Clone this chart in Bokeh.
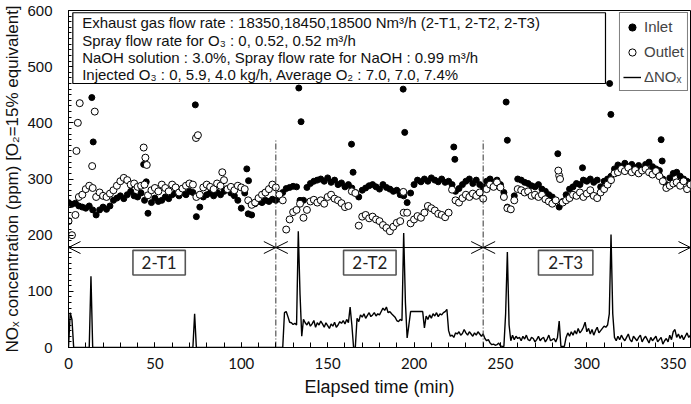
from bokeh.plotting import figure
from bokeh.models import (Range1d, FixedTicker, Arrow, OpenHead, Label, BoxAnnotation,
                          Legend, LegendItem, ColumnDataSource)
from bokeh.embed import file_html
from bokeh.resources import INLINE

# ---------------- data ----------------
minutes_2 = list(range(0, 361, 2))

inlet_main = [
    258, 255, 257, 252, 250, 248, 252, 245, 236, 245,
    250, 246, 252, 262, 266, 270, 265, 272, 278, 270,
    268, 275, 262, 239, 258, 266, 260, 262, 268, 265,
    272, 275, 270, 276, 272, 278, 276, 233, 250, 268,
    272, 275, 270, 276, 272, 278, 283, 275, 270, 262,
    248, 275, 238, 236, 256, 260, 258, 262, 260, 264,
    262,
    270, 276, 283, 285, 287, 286, 262, 262, 285, 292,
    296, 298, 300, 296, 302, 294, 298, 290, 293, 286,
    290, 284, 276, 268, 280, 284, 288, 290, 286, 282,
    290, 285, 282, 278, 280, 272, 270, 258, 275, 290,
    298, 295, 300, 296, 302, 298, 295, 300, 294, 296,
    290, 278, 283, 290, 296, 300, 292, 298, 290, 286,
    296, 300, 294, 298, 290, 276, 250, 246, 270, 300,
    298, 294, 292, 288, 286, 290, 282, 278, 272, 268,
    262, 250, 260, 272, 282, 286, 292, 290, 298, 296,
    300, 294, 298, 286, 296, 300, 305, 318, 325, 322,
    328, 322, 326, 320, 324, 318, 326, 330, 322, 318,
    315, 300, 290, 302, 310, 312, 305, 300, 296, 292,
]

outlet_main = [
    225, 200, 236, 268, 272, 282, 288, 284, 268, 276,
    270, 268, 274, 280, 288, 296, 302, 298, 290, 292,
    286, 288, 290, 271, 280, 284, 278, 290, 284, 278,
    290, 285, 276, 283, 288, 292, 290, 268, 272, 285,
    290, 286, 282, 292, 288, 298, 282, 286, 280, 288,
    285, 282, 262, 254, 258, 266, 272, 276, 282, 290,
    285,
    272, 262, 210, 228, 241, 245, 256, 231, 245, 260,
    263, 258, 262, 256, 268, 272, 265, 262, 257, 250,
    252, 278, 275, 217, 233, 236, 230, 233, 228, 225,
    218, 213, 207, 215, 222, 225, 240, 240, 221, 228,
    234, 231, 240, 252, 248, 244, 238, 236, 232, 240,
    281, 262, 258, 266, 272, 268, 274, 270, 276, 265,
    282, 290, 286, 294, 285, 268, 248, 246, 262, 282,
    280, 276, 278, 270, 272, 268, 272, 264, 260, 256,
    262, 306, 258, 262, 266, 272, 270, 276, 268, 274,
    280, 270, 266, 276, 282, 290, 298, 310, 312, 318,
    314, 320, 312, 316, 310, 315, 318, 312, 308, 314,
    305, 296, 284, 288, 292, 294, 288, 296, 282, 290,
]

inlet_extra_t = [13.5, 14.3, 43.5, 45.0, 73.4, 103.2, 104.2, 133.3, 134.6, 163.8, 164.7,
                 193.7, 194.6, 223.0, 223.6, 253.3, 254.0, 283.2, 297.5, 313.2, 313.9,
                 343.0, 343.6]
inlet_extra_v = [445, 366, 326, 295, 432, 318, 297, 462, 402, 362, 312,
                 460, 383, 357, 335, 437, 369, 345, 320, 470, 415,
                 370, 332]

outlet_extra_t = [4.6, 5.4, 6.5, 13.7, 15.2, 43.5, 44.5, 45.3, 73.8, 74.9, 89.0,
                  193.8, 283.5, 284.5]
outlet_extra_v = [350, 400, 435, 323, 420, 356, 338, 325, 373, 378, 312,
                  277, 315, 300]

minutes_1 = list(range(0, 361))
delta_nox = [
    0, 62, 50, 0, 0, 0, 0, 0, 0, 0,
    0, 0, 0, 127, 0, 0, 0, 0, 0, 0,
    0, 0, 0, 0, 0, 0, 0, 0, 0, 0,
    0, 0, 0, 0, 0, 0, 0, 0, 0, 0,
    0, 0, 0, 0, 0, 0, 0, 0, 0, 0,
    0, 0, 0, 0, 0, 0, 0, 0, 0, 0,
    0, 0, 0, 0, 0, 0, 0, 0, 0, 0,
    0, 0, 0, 60, 0, 0, 0, 0, 0, 0,
    0, 0, 0, 0, 0, 0, 0, 0, 0, 0,
    0, 0, 0, 0, 0, 0, 0, 0, 0, 0,
    0, 0, 0, 0, 0, 0, 0, 0, 0, 0,
    0, 0, 0, 0, 0, 0, 0, 0, 0, 0,
    0, 0, 0, 0, 0, 62, 64, 55, 45, 44,
    41, 43, 40, 207, 95, 20, 50, 44, 40, 46,
    38, 42, 48, 36, 44, 40, 47, 42, 36, 44,
    39, 34, 42, 38, 45, 36, 40, 46, 43, 48,
    42, 50, 44, 72, 40, 0, 0, 52, 46, 58,
    54, 60, 52, 57, 62, 55, 58, 62, 56, 60,
    58, 64, 70, 66, 72, 62, 64, 60, 57, 54,
    48, 46, 50, 48, 204, 80, 17, 40, 64, 64,
    64, 64, 64, 64, 64, 64, 35, 56, 50, 58,
    52, 60, 56, 62, 55, 60, 58, 62, 64, 68,
    30, 20, 22, 18, 26, 24, 28, 22, 25, 32,
    26, 22, 28, 24, 20, 26, 22, 28, 24, 20,
    24, 16, 12, 14, 8, 5, 6, 4, 5, 8,
    3, 2, 2, 60, 170, 40, 12, 22, 14, 20,
    16, 18, 12, 20, 15, 22, 14, 12, 18, 16,
    10, 14, 20, 12, 16, 18, 10, 15, 22, 12,
    14, 16, 10, 18, 47, 2, 2, 2, 18, 26,
    20, 28, 22, 30, 24, 34, 26, 30, 36, 45,
    28, 34, 24, 32, 22, 30, 36, 26, 30, 34,
    38, 36, 40, 60, 201, 60, 18, 12, 20, 14,
    22, 16, 12, 18, 24, 14, 10, 20, 16, 12,
    18, 22, 10, 16, 20, 14, 8, 18, 12, 16,
    20, 10, 14, 18, 6, 12, 16, 10, 22, 14,
    28, 32, 18, 24, 16, 22, 14, 20, 26, 18,
    22,
]

period_names = ["2-T1", "2-T2", "2-T3"]
period_edges = [0, 120, 240, 360]
x_ticks = [0, 50, 100, 150, 200, 250, 300, 350]
y_ticks = [0, 100, 200, 300, 400, 500, 600]

info_lines = [
    "Exhaust gas flow rate : 18350,18450,18500 Nm\u00b3/h (2-T1, 2-T2, 2-T3)",
    "Spray flow rate for O\u2083 : 0, 0.52, 0.52 m\u00b3/h",
    "NaOH solution : 3.0%, Spray flow rate for NaOH : 0.99 m\u00b3/h",
    "Injected O\u2083 : 0, 5.9, 4.0 kg/h, Average O\u2082 : 7.0, 7.0, 7.4%",
]

# ---------------- figure ----------------
FONT = "Liberation Sans"

p = figure(width=691, height=403, output_backend="svg", toolbar_location=None,
           x_range=Range1d(0, 360), y_range=Range1d(0, 600),
           min_border_left=68, min_border_right=1, min_border_top=10, min_border_bottom=56)
p.xgrid.visible = False
p.ygrid.visible = False
p.outline_line_color = "black"
p.outline_line_width = 1
p.background_fill_color = "white"
p.border_fill_color = "white"

inlet_src = ColumnDataSource(dict(t=minutes_2 + inlet_extra_t, v=inlet_main + inlet_extra_v))
outlet_src = ColumnDataSource(dict(t=minutes_2 + outlet_extra_t, v=outlet_main + outlet_extra_v))
delta_src = ColumnDataSource(dict(t=minutes_1, v=delta_nox))

r_delta = p.line("t", "v", source=delta_src, line_color="black", line_width=1.4)
r_in = p.scatter("t", "v", source=inlet_src, marker="circle", size=6,
                 fill_color="black", line_color="black", line_width=1)
r_out = p.scatter("t", "v", source=outlet_src, marker="circle", size=7,
                  fill_color="white", line_color="black", line_width=1)

# period boundaries (dash-dot)
for b in period_edges[1:-1]:
    p.segment(x0=[b], y0=[0], x1=[b], y1=[370], line_color="#333333",
              line_width=1, line_dash="6 2 1 2")

# period arrows
for a, b in zip(period_edges[:-1], period_edges[1:]):
    p.add_layout(Arrow(x_start=a, y_start=178, x_end=b, y_end=178,
                       line_color="black", line_width=1,
                       start=OpenHead(size=12, line_color="black", line_width=1),
                       end=OpenHead(size=12, line_color="black", line_width=1)))

# period label boxes
box_pos = [(37.3, 67.6), (159.2, 189.6), (272.0, 303.5)]
for name, (l, r) in zip(period_names, box_pos):
    p.add_layout(BoxAnnotation(left=l, right=r, bottom=129, top=173,
                               fill_color="white", fill_alpha=1,
                               line_color="#555555", line_width=1.6, line_alpha=1))
    p.add_layout(Label(x=(l + r) / 2, y=151, text=name, text_align="center",
                       text_baseline="middle", text_font="Lato",
                       text_font_size="17px", text_color="#222222"))

# information box
p.add_layout(BoxAnnotation(left=2.5, right=310.8, bottom=470, top=596,
                           fill_color="white", fill_alpha=1,
                           line_color="black", line_width=1.2, line_alpha=1))
for txt, yy in zip(info_lines, [579, 546.5, 516, 486]):
    p.add_layout(Label(x=7.9, y=yy, text=txt, text_align="left", text_baseline="middle",
                       text_font=FONT, text_font_size="15px", text_color="#111111"))

# legend
legend = Legend(items=[LegendItem(label="Inlet", renderers=[r_in]),
                       LegendItem(label="Outlet", renderers=[r_out]),
                       LegendItem(label="\u0394NO\u2093", renderers=[r_delta])],
                location="top_right", margin=2, padding=3, spacing=4,
                label_height=21, glyph_height=20, glyph_width=18, label_standoff=3,
                label_text_font=FONT, label_text_font_size="15px",
                border_line_color="black", border_line_width=1,
                background_fill_color="white", background_fill_alpha=1)
p.add_layout(legend)

# axes
p.xaxis.ticker = FixedTicker(ticks=x_ticks, minor_ticks=list(range(0, 361, 10)))
p.yaxis.ticker = FixedTicker(ticks=y_ticks, minor_ticks=list(range(0, 601, 10)))
for ax in (p.xaxis[0], p.yaxis[0]):
    ax.axis_line_color = "black"
    ax.major_tick_line_color = "black"
    ax.minor_tick_line_color = "black"
    ax.major_tick_in = 5
    ax.major_tick_out = 0
    ax.minor_tick_out = 0
    ax.major_label_text_color = "#111111"
    ax.axis_label_text_color = "#111111"
    ax.axis_label_text_font_style = "normal"
    ax.axis_label_text_font = FONT
p.xaxis.minor_tick_in = 5
p.yaxis.minor_tick_in = 3
p.xaxis.major_label_text_font = "Lato"
p.xaxis.major_label_text_font_size = "15px"
p.yaxis.major_label_text_font = FONT
p.yaxis.major_label_text_font_size = "15px"
p.xaxis.major_label_standoff = 10
p.yaxis.major_label_standoff = 16
p.xaxis.axis_label = "Elapsed time (min)"
p.xaxis.axis_label_text_font_size = "18px"
p.xaxis.axis_label_standoff = 5
p.yaxis.axis_label = "NO\u2093 concentration (ppm) [O\u2082=15% equivalent]"
p.yaxis.axis_label_text_font_size = "17px"
p.yaxis.axis_label_standoff = 2

open("out.html", "w").write(file_html(p, INLINE))
